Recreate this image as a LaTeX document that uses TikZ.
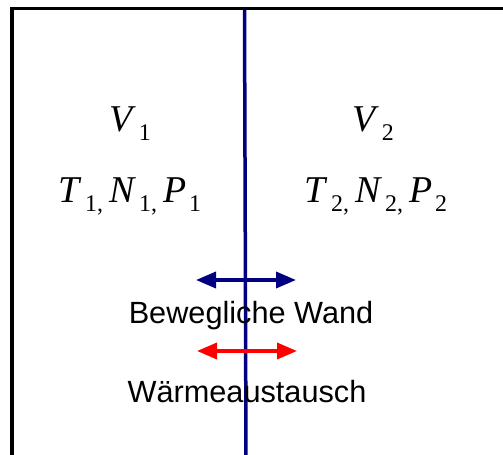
\documentclass[tikz,border=0pt]{standalone}
\usepackage{fontspec}
\setmainfont{Liberation Serif}
\newfontfamily\arialfont{Liberation Sans}
\usepackage{xcolor}
\usepackage{tikz}
\usetikzlibrary{positioning,arrows.meta}
\definecolor{cmarine}{HTML}{000080}
\definecolor{crot}{HTML}{FF0000}
\newcommand{\lowidx}[1]{\kern3bp\raisebox{-9bp}{\fontsize{24}{24}\selectfont #1}}
\newcommand{\gap}{\kern6bp}
\tikzset{
  groesse/.style={font=\fontsize{38}{40}\selectfont, inner sep=0pt, anchor=base},
  etikett/.style={font=\arialfont\fontsize{30.8}{32}\selectfont, inner sep=0pt, anchor=base},
  behaelter/.style={draw=black, line width=3.5bp},
  wand/.style={draw=cmarine, line width=3.5bp},
  doppel/.style={{Triangle[length=20bp,width=16bp]}-{Triangle[length=20bp,width=16bp]}, line width=3.5bp},
}

\begin{document}
\begin{tikzpicture}[x=1bp, y=-1bp]
  \useasboundingbox (0,0) rectangle (503,455);
  % behaelter
  \coordinate (ul) at (12,455);
  \coordinate (ol) at (12,8.5);
  \coordinate (or) at (505,8.5);
  \draw[behaelter] (ul) -- (ol) -- (or);
  % bewegliche wand
  \coordinate (wo) at (244.5,10);
  \coordinate (wu) at (246,457);
  \draw[wand] (wo) -- (wu);
  % zustandsgroessen
  \node[groesse] (v1) at (130,132) {\textit{V}\lowidx{1}};
  \node[groesse] (tnp1) at (130,203) {\textit{T}\lowidx{1,}\gap\textit{N}\lowidx{1,}\gap\textit{P}\lowidx{1}};
  \node[groesse] (v2) at (373,132) {\textit{V}\lowidx{2}};
  \node[groesse] (tnp2) at (376,203) {\textit{T}\lowidx{2,}\gap\textit{N}\lowidx{2,}\gap\textit{P}\lowidx{2}};
  % pfeile
  \coordinate (bl) at (196,280);
  \coordinate (br) at (296,280);
  \coordinate (rl) at (197,351);
  \coordinate (rr) at (297,351);
  \draw[doppel, cmarine] (bl) -- (br);
  \draw[doppel, crot] (rl) -- (rr);
  \node[etikett] (bewegl) at (251,323) {Bewegliche Wand};
  \node[etikett] (waerme) at (247,402) {Wärmeaustausch};
\end{tikzpicture}
\end{document}
